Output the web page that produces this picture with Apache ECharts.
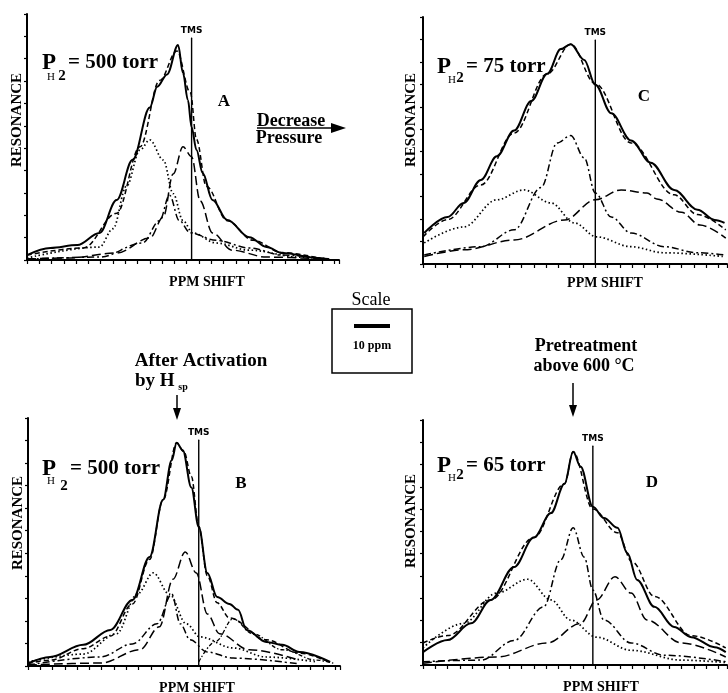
<!DOCTYPE html>
<html>
<head>
<meta charset="utf-8">
<script src="https://cdn.jsdelivr.net/npm/echarts@6/dist/echarts.min.js"></script>
<style>html,body{margin:0;background:#fff}#main{width:728px;height:693px}</style>
</head>
<body>
<div id="main"></div>
<script>
// x in tick units (0 = resonance axis), y in tick units x10 (axis top = 110)

// panel A: 500 torr
const aMeasX = [0, 1.9, 4.1, 5.9, 7.3, 8.6, 10.0, 10.6, 11.4, 12.3, 12.7, 13.1, 13.4, 13.8, 14.3, 15.1, 16.3, 18.1, 19.5, 20.8, 23.6, 24.5];
const aMeasY = [2.2, 5.4, 6.7, 12.1, 26.8, 44.8, 68.2, 77.5, 83, 96.1, 83.6, 71.5, 59.4, 49.2, 38.9, 26.8, 17.9, 10.2, 5.8, 3.1, 0.9, 0.4];
const aFitX = [0, 4.6, 7.3, 9.2, 10.8, 12.2, 13.3, 13.8, 14.6, 16.3, 18.4, 20.8, 23.6];
const aFitY = [2.2, 5.4, 20.9, 50.6, 80.3, 93.5, 74.8, 53.9, 33, 17.6, 8.8, 3.3, 1.1];
const aDotX = [0, 5.9, 7.0, 8.1, 9.2, 10.0, 11.1, 11.9, 12.7, 13.5, 15.4, 18.1, 22.2, 24.6];
const aDotY = [0.9, 5.8, 14, 33, 49.2, 53.7, 44.7, 29.7, 17.6, 12.1, 7.6, 4.4, 1.3, 0.4];
const aDashDotX = [0, 5.9, 9.4, 10.8, 11.6, 12.4, 13.3, 15.4, 18.1, 20.8, 24.6];
const aDashDotY = [0.4, 1.3, 7.6, 17.6, 29, 17.6, 12.1, 8.8, 5.4, 2.2, 0.4];
const aLongX = [0, 3.3, 7.3, 10.0, 11.1, 11.9, 12.7, 13.4, 14.1, 15.1, 16.7, 19.5, 24.6];
const aLongY = [0.4, 0.9, 3.1, 9.8, 19.3, 38.5, 50.6, 46.2, 26.4, 12.1, 4.4, 1.3, 0.4];

// panel C: 75 torr
const cMeasX = [0.1, 2, 3.3, 4.7, 6, 7.4, 8.8, 10.1, 11.2, 12, 13.1, 14, 15.3, 16.9, 18.5, 20.4, 22.3, 23.7, 24.5];
const cMeasY = [13.8, 20.9, 27.2, 37.4, 48, 59.4, 72.6, 84.7, 95.7, 97.9, 90.9, 79.8, 67.1, 55, 45.1, 33, 24.2, 19.6, 18.3];
const cFitX = [0, 2, 4.7, 7.4, 10.1, 12, 14, 16.9, 20.4, 22.3, 24.6];
const cFitY = [12.1, 19.8, 35.2, 58.3, 84.7, 97.9, 80.3, 53.9, 30.8, 22, 15.2];
const cDotX = [0.1, 3.3, 6, 8.2, 10.4, 12.3, 14.1, 16.9, 19.6, 24.5];
const cDotY = [9.4, 16.5, 28.6, 33, 27.2, 18.3, 12.1, 7.7, 5, 3.3];
const cDashDotX = [0.1, 4.7, 7.4, 9.6, 10.9, 12, 13.1, 14, 15.3, 16.9, 19.6, 22.3, 24.5];
const cDashDotY = [4, 7.7, 15.2, 34.1, 53.9, 57.2, 47.3, 31.6, 20.9, 13.8, 7.7, 5, 4];
const cLongX = [0.1, 3.3, 7.4, 11.5, 14, 16.1, 18.2, 19, 21, 22.5, 24.6];
const cLongY = [3.3, 6.3, 10.7, 19.6, 28.6, 33, 31.6, 29, 23, 17.4, 11.5];

// panel B: after activation, 500 torr
const bMeasX = [0, 1.8, 4.5, 6.7, 8.5, 9.9, 11, 11.7, 12.1, 12.6, 13.3, 13.9, 14.6, 15.4, 16.4, 17.1, 17.8, 19.4, 20.7, 22.1, 24.6];
const bMeasY = [1.1, 4, 9.4, 16, 29.3, 48.4, 73.7, 91.3, 99, 95.7, 79.2, 61.6, 41.3, 30.6, 27.5, 24.9, 16, 10.7, 9.4, 6.2, 1.8];
const bFitX = [0, 1.8, 4.5, 6.7, 8.5, 9.9, 11, 12.1, 12.7, 13.3, 13.9, 14.6, 15.4, 16.4, 19.4, 22.1, 24.6];
const bFitY = [1.1, 2.6, 7.7, 13.2, 27.5, 47.3, 73.7, 99, 95, 84, 62, 40, 28, 21.3, 11.6, 5.7, 1.5];
const bDotX = [0, 4.5, 7.2, 8.9, 10.2, 11.5, 12.9, 14, 16.7, 19.4, 23.5];
const bDotY = [1.8, 5.3, 14.3, 31.9, 41.3, 31.9, 18.7, 12.9, 8, 4, 1.8];
const bDashDotX = [0, 5.9, 8.5, 10.5, 11.7, 12.4, 13.2, 14.6, 16.7, 22.1];
const bDashDotY = [0.4, 4, 9.8, 18.7, 31.9, 18.7, 11.6, 6.2, 3.5, 0.9];
const bLongX = [0, 5.9, 9.1, 10.7, 11.8, 12.8, 13.7, 14.6, 15.6, 18, 22.1];
const bLongY = [0.4, 1.3, 7.2, 17.4, 38.5, 50.6, 41.3, 23.1, 14.3, 7.2, 2.6];
const bBumpX = [13.9, 15.3, 16.7, 18.3, 20.7, 23.5, 25];
const bBumpY = [1.8, 11, 20.9, 14.3, 7.2, 2.6, 1];

// panel D: pretreated, 65 torr
const dMeasX = [0, 2, 3.9, 5.5, 7.4, 9, 10.4, 11.5, 12.2, 12.8, 13.8, 14.7, 15.8, 16.6, 17.4, 18.8, 20.4, 21.8, 23.7, 24.6];
const dMeasY = [5.8, 11.2, 18.7, 29.2, 44, 57.2, 68.2, 81.4, 95.7, 89.1, 71, 66, 61.6, 50.3, 38.2, 26.1, 17.1, 12.5, 8, 5.8];
const dFitX = [0, 2, 5.5, 9, 11.5, 12.2, 13.8, 15.8, 17, 18.8, 21.8, 24.6];
const dFitY = [9.9, 13.2, 29.2, 57.2, 81.4, 95.7, 70, 59.4, 46.2, 30.8, 13.2, 7.7];
const dDotX = [0, 3.3, 6, 8.5, 10.4, 12, 14.1, 16.9, 21, 24.6];
const dDotY = [7.7, 18.7, 32.3, 38.5, 29.2, 20.2, 12.5, 6.6, 2.2, 1.1];
const dDashDotX = [0, 4.7, 7.4, 9.8, 11.2, 12.2, 13.1, 13.8, 14.7, 16.9, 19.6, 24.6];
const dDashDotY = [1.5, 2.2, 11, 26.1, 47.3, 61.6, 48.4, 33.7, 20.2, 9.9, 4.4, 1.5];
const dLongX = [0, 6, 10.1, 12.8, 14.1, 15.6, 16.9, 18.2, 21, 24.6];
const dLongY = [0.8, 3.6, 9.9, 18.7, 29.2, 39.6, 32.3, 20.2, 9.9, 3.6];

// TMS reference position and line top per panel (A, C, B, D)
const tmsX = [13.4, 14.0, 13.9, 13.8];
const tmsTop = [99.3, 99.8, 100.2, 98.3];
const xMax = [25.4, 24.7, 25.4, 24.7];

const grids = [
  { left: 27, top: 14, width: 312, height: 246 },
  { left: 423, top: 17, width: 304, height: 247 },
  { left: 28, top: 418, width: 312, height: 248 },
  { left: 423, top: 420, width: 304, height: 245 }
];

const serif = '"Liberation Serif", "Times New Roman", serif';
const FIT = [5, 3], DOT = [1.5, 2.5], DASHDOT = [7, 3, 2, 3], LONG = [9, 4], SMALL = [4, 2, 1.5, 2];

function curve(g, xs, ys, type, width) {
  return {
    type: 'line', xAxisIndex: g, yAxisIndex: g,
    data: xs.map((x, i) => [x, ys[i]]),
    showSymbol: false, smooth: 0.35, smoothMonotone: 'x', silent: true,
    lineStyle: { color: '#000', width: width || 1.5, type: type }
  };
}

function tms(g) {
  return {
    type: 'line', xAxisIndex: g, yAxisIndex: g, silent: true,
    data: [[tmsX[g], 0], {
      value: [tmsX[g], tmsTop[g]],
      label: { show: true, formatter: 'TMS', position: 'top', distance: 2, fontSize: 9, fontWeight: 'bold', fontFamily: '"DejaVu Sans", sans-serif', color: '#000' }
    }],
    showSymbol: true, symbol: 'rect', symbolSize: 1, itemStyle: { color: '#000' },
    lineStyle: { color: '#000', width: 1.4 }
  };
}

const xAxes = grids.map((g, i) => ({
  type: 'value', gridIndex: i, min: 0, max: xMax[i], interval: 1,
  axisLine: { onZero: false, lineStyle: { color: '#000', width: 2 } },
  axisTick: { length: 4, lineStyle: { color: '#000', width: 1.2 } },
  axisLabel: { show: false }, splitLine: { show: false }
}));
const yAxes = grids.map((g, i) => ({
  type: 'value', gridIndex: i, min: 0, max: 110, interval: 10,
  axisLine: { onZero: false, lineStyle: { color: '#000', width: 2 } },
  axisTick: { length: 3, lineStyle: { color: '#000', width: 1.2 } },
  axisLabel: { show: false }, splitLine: { show: false }
}));

const series = [
  curve(0, aMeasX, aMeasY, 'solid', 2), curve(0, aFitX, aFitY, FIT),
  curve(0, aDotX, aDotY, DOT, 1.7), curve(0, aDashDotX, aDashDotY, DASHDOT), curve(0, aLongX, aLongY, LONG),
  curve(1, cMeasX, cMeasY, 'solid', 2), curve(1, cFitX, cFitY, FIT),
  curve(1, cDotX, cDotY, DOT, 1.7), curve(1, cDashDotX, cDashDotY, DASHDOT), curve(1, cLongX, cLongY, LONG),
  curve(2, bMeasX, bMeasY, 'solid', 2), curve(2, bFitX, bFitY, FIT),
  curve(2, bDotX, bDotY, DOT, 1.7), curve(2, bDashDotX, bDashDotY, DASHDOT), curve(2, bLongX, bLongY, LONG),
  curve(2, bBumpX, bBumpY, SMALL, 1.3),
  curve(3, dMeasX, dMeasY, 'solid', 2), curve(3, dFitX, dFitY, FIT),
  curve(3, dDotX, dDotY, DOT, 1.7), curve(3, dDashDotX, dDashDotY, DASHDOT), curve(3, dLongX, dLongY, LONG),
  tms(0), tms(1), tms(2), tms(3)
];

function txt(x, y, s, size, o) {
  o = o || {};
  return {
    type: 'text', x: x, y: y, rotation: o.rot || 0, silent: true,
    style: { text: s, font: (o.weight || 'bold') + ' ' + size + 'px ' + (o.family || serif), fill: '#000', align: o.align || 'center', verticalAlign: 'middle' }
  };
}
function line(x1, y1, x2, y2, w) {
  return { type: 'line', silent: true, shape: { x1, y1, x2, y2 }, style: { stroke: '#000', lineWidth: w || 1.5 } };
}
function head(pts) {
  return { type: 'polygon', silent: true, shape: { points: pts }, style: { fill: '#000' } };
}
function pLabel(x, y, h2x, h2y, twoX, twoY, rest) {
  return [
    txt(x, y, 'P', 23, { align: 'left' }),
    txt(h2x, h2y, 'H', 11, { weight: 'normal' }),
    txt(twoX, twoY, '2', 15),
    txt(twoX + 6, y, rest, 21, { align: 'left' })
  ];
}

const graphic = [
  txt(17, 120, 'RESONANCE', 15, { rot: Math.PI / 2 }),
  txt(411, 120, 'RESONANCE', 15, { rot: Math.PI / 2 }),
  txt(18, 523, 'RESONANCE', 15, { rot: Math.PI / 2 }),
  txt(411, 521, 'RESONANCE', 15, { rot: Math.PI / 2 }),
  txt(207, 282, 'PPM SHIFT', 14), txt(605, 283, 'PPM SHIFT', 14),
  txt(197, 688, 'PPM SHIFT', 14), txt(601, 687, 'PPM SHIFT', 14),
  txt(224, 102, 'A', 17), txt(644, 97, 'C', 17), txt(241, 484, 'B', 17), txt(652, 483, 'D', 17),
  ...pLabel(42, 63, 51, 77, 62, 76, '= 500 torr'),
  ...pLabel(437, 67, 452, 80, 460, 78, '= 75 torr'),
  ...pLabel(42, 469, 51, 481, 64, 486, '= 500 torr'),
  ...pLabel(437, 466, 452, 478, 460, 475, '= 65 torr'),
  txt(291, 121, 'Decrease', 18), txt(289, 138, 'Pressure', 18),
  line(257, 128, 333, 128, 1.5), head([[331, 123], [346, 128], [331, 133]]),
  txt(371, 300, 'Scale', 18, { weight: 'normal' }),
  { type: 'rect', silent: true, shape: { x: 332, y: 309, width: 80, height: 64 }, style: { fill: 'none', stroke: '#000', lineWidth: 1.5 } },
  line(354, 326, 390, 326, 4),
  txt(372, 346, '10 ppm', 12),
  txt(201, 361, 'After Activation', 19),
  txt(135, 381, 'by H', 19, { align: 'left' }), txt(183, 387, 'sp', 10),
  line(177, 395, 177, 410, 1.5), head([[173, 408], [177, 420], [181, 408]]),
  txt(586, 346, 'Pretreatment', 18),
  txt(584, 366, 'above 600 °C', 18),
  line(573, 383, 573, 407, 1.5), head([[569, 405], [573, 417], [577, 405]])
];

const chart = echarts.init(document.getElementById('main'));
chart.setOption({
  animation: false,
  backgroundColor: '#fff',
  grid: grids,
  xAxis: xAxes,
  yAxis: yAxes,
  series: series,
  graphic: graphic
});
</script>
</body>
</html>
